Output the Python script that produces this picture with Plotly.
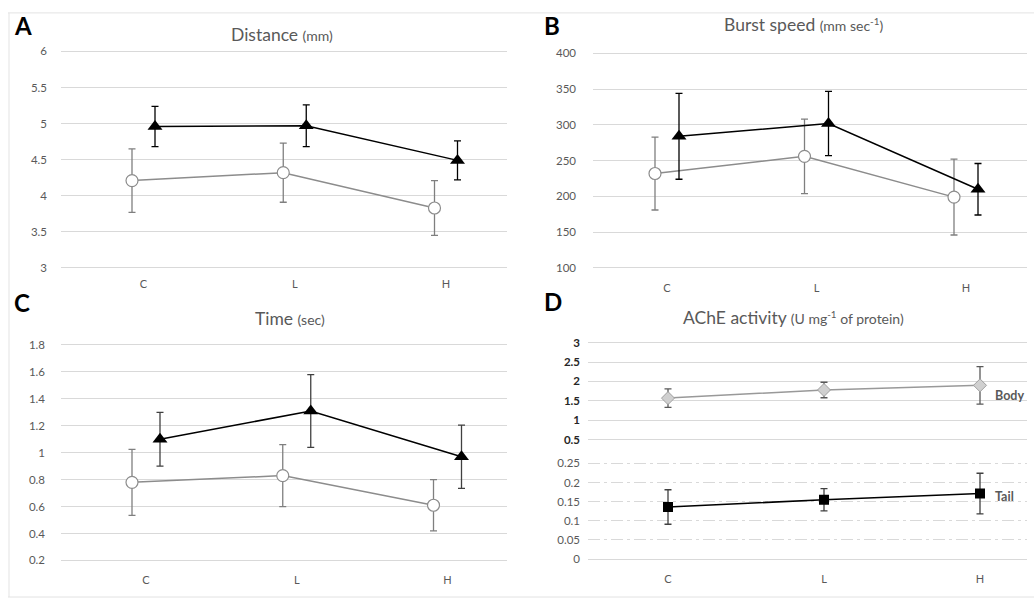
import plotly.graph_objects as go

W, H = 1034, 602

# ---------------- data ----------------
categories = ["C", "L", "H"]
cat_pos = [0, 1, 2]

# Panel A: Distance (mm)
dist_tri = [4.96, 4.97, 4.49]
dist_tri_err = [0.28, 0.29, 0.27]
dist_circ = [4.21, 4.32, 3.83]
dist_circ_err = [0.44, 0.41, 0.38]

# Panel B: Burst speed (mm sec-1)
speed_tri = [284, 302, 210]
speed_tri_err = [60, 45, 36]
speed_circ = [232, 256, 199]
speed_circ_err = [51, 52, 53]

# Panel C: Time (sec)
time_tri = [1.10, 1.31, 0.97]
time_tri_err = [0.20, 0.27, 0.235]
time_circ = [0.78, 0.83, 0.61]
time_circ_err = [0.245, 0.23, 0.19]

# Panel D: AChE activity (U mg-1 of protein)
body = [1.57, 1.78, 1.90]
body_err = [0.24, 0.20, 0.485]
tail = [0.136, 0.155, 0.171]
tail_err = [0.045, 0.029, 0.053]

ticks_A = [3, 3.5, 4, 4.5, 5, 5.5, 6]
ticks_B = [100, 150, 200, 250, 300, 350, 400]
ticks_C = [0.2, 0.4, 0.6, 0.8, 1.0, 1.2, 1.4, 1.6, 1.8]
ticks_D_up = [0.5, 1, 1.5, 2, 2.5, 3]
ticks_D_low = [0, 0.05, 0.1, 0.15, 0.2, 0.25]


def fmt(v):
    return "%g" % v


# ---------------- layout helpers ----------------
def geom(xpx, cpx, spacing, ypx_top, ypx_bot, vtop, vbot, pad=3):
    ppu = (ypx_bot - ypx_top) / (vtop - vbot)
    yr = [vbot - pad / ppu, vtop + pad / ppu]
    ydom = [1 - (ypx_bot + pad) / H, 1 - (ypx_top - pad) / H]
    xr = [(xpx[0] - cpx) / spacing, (xpx[1] - cpx) / spacing]
    xdom = [xpx[0] / W, xpx[1] / W]
    return xdom, xr, ydom, yr


GRID = "#d9d9d9"
TXT = "#595959"
FONT = "Lato"

fig = go.Figure()

panels = {
    "A": geom((61, 507), 143.5, 151.25, 48, 267, 6, 3),
    "B": geom((593, 1027), 667, 149.5, 50, 267, 400, 100),
    "C": geom((61, 507), 146, 150.75, 345, 563, 1.8, 0.2),
    "Dlow": geom((588, 1027), 668, 156, 464.7, 561.7, 0.25, 0),
    "Dup": geom((588, 1027), 668, 156, 342.7, 440.7, 3, 0.5),
}
offsets = {"A": 11.5 / 151.25, "B": 12 / 149.5, "C": 14 / 150.75}


def add_pair(tri, tri_err, circ, circ_err, xa, ya, off, tri_err_col="black"):
    fig.add_trace(go.Scatter(
        x=[p - off for p in cat_pos], y=circ, xaxis=xa, yaxis=ya,
        mode="lines+markers",
        line=dict(color="#8c8c8c", width=1.5),
        marker=dict(symbol="circle", size=12, color="white",
                    line=dict(color="#8c8c8c", width=1.2)),
        error_y=dict(type="data", array=circ_err, visible=True,
                     color="#7f7f7f", thickness=1.3, width=3.5),
        showlegend=False, hoverinfo="skip"))
    fig.add_trace(go.Scatter(
        x=[p + off for p in cat_pos], y=tri, xaxis=xa, yaxis=ya,
        mode="lines+markers",
        line=dict(color="black", width=1.5),
        marker=dict(symbol="triangle-up", size=13, color="black"),
        error_y=dict(type="data", array=tri_err, visible=True,
                     color=tri_err_col, thickness=1.3, width=3.5),
        showlegend=False, hoverinfo="skip"))


add_pair(dist_tri, dist_tri_err, dist_circ, dist_circ_err, "x", "y", offsets["A"])
add_pair(speed_tri, speed_tri_err, speed_circ, speed_circ_err, "x2", "y2", offsets["B"])
add_pair(time_tri, time_tri_err, time_circ, time_circ_err, "x3", "y3", offsets["C"], "#404040")

# Panel D
fig.add_trace(go.Scatter(
    x=cat_pos, y=tail, xaxis="x4", yaxis="y4", mode="lines+markers",
    line=dict(color="black", width=1.5),
    marker=dict(symbol="square", size=10, color="black"),
    error_y=dict(type="data", array=tail_err, visible=True,
                 color="#404040", thickness=1.3, width=3.5),
    showlegend=False, hoverinfo="skip"))
fig.add_trace(go.Scatter(
    x=cat_pos, y=body, xaxis="x4", yaxis="y5", mode="lines+markers",
    line=dict(color="#999999", width=1.5),
    marker=dict(symbol="diamond", size=10, color="#d0d0d0",
                line=dict(color="#a0a0a0", width=1)),
    error_y=dict(type="data", array=body_err, visible=True,
                 color="#595959", thickness=1.3, width=3.5),
    showlegend=False, hoverinfo="skip"))


def xaxis_cfg(key, anchor, standoff):
    xdom, xr, _, _ = panels[key]
    return dict(domain=xdom, range=xr, anchor=anchor, showgrid=False,
                zeroline=False, showline=False, tickmode="array",
                tickvals=cat_pos, ticktext=categories,
                tickfont=dict(family=FONT, size=11, color=TXT),
                ticks="", ticklabelstandoff=standoff, fixedrange=True)


def yaxis_cfg(key, anchor, tickvals, standoff, bold=False, dash="solid", zeroline=False):
    _, _, ydom, yr = panels[key]
    text = [("<b>%s</b>" % fmt(v)) if bold else fmt(v) for v in tickvals]
    return dict(domain=ydom, range=yr, anchor=anchor, showgrid=True,
                gridcolor=GRID, gridwidth=1, griddash=dash,
                zeroline=zeroline, zerolinecolor=GRID, zerolinewidth=1,
                showline=False, tickmode="array", tickvals=tickvals,
                ticktext=text, ticks="",
                tickfont=dict(family=FONT, size=11.5,
                              color="#262626" if bold else TXT),
                ticklabelstandoff=standoff, fixedrange=True)


fig.update_layout(
    width=W, height=H, margin=dict(l=0, r=0, t=0, b=0),
    paper_bgcolor="white", plot_bgcolor="white",
    xaxis=xaxis_cfg("A", "y", 5),
    yaxis=yaxis_cfg("A", "x", ticks_A, 13),
    xaxis2=xaxis_cfg("B", "y2", 9),
    yaxis2=yaxis_cfg("B", "x2", ticks_B, 16),
    xaxis3=xaxis_cfg("C", "y3", 9),
    yaxis3=yaxis_cfg("C", "x3", ticks_C, 15),
    xaxis4=xaxis_cfg("Dlow", "y4", 9),
    yaxis4=yaxis_cfg("Dlow", "x4", ticks_D_low, 7, dash="12px,4px,3px,4px", zeroline=True),
    yaxis5=yaxis_cfg("Dup", "x4", ticks_D_up, 7, bold=True),
)


def ann(text, xpx, ypx, size, color=TXT, xanchor="center", family=FONT):
    fig.add_annotation(text=text, x=xpx / W, y=1 - ypx / H, xref="paper", yref="paper",
                       showarrow=False, xanchor=xanchor, yanchor="middle",
                       font=dict(family=family, size=size, color=color))


small = "<span style='font-size:14px'>%s</span>"
ann("Distance " + small % "(mm)", 282, 31, 17.5)
ann("Burst speed " + small % "(mm sec<sup>-1</sup>)", 803, 21, 17.5)
ann("Time " + small % "(sec)", 290, 318, 17.5)
ann("AChE activity " + small % "(U mg<sup>-1</sup> of protein)", 793, 317, 17.5)

for letter, xp, yp in [("A", 23, 22), ("B", 552, 22), ("C", 22, 302), ("D", 553, 301)]:
    ann("<b>%s</b>" % letter, xp, yp, 24, color="black")

ann("<b>Body</b>", 993, 396, 12.5, xanchor="left")
ann("<b>Tail</b>", 993, 498, 12.5, xanchor="left")

# faint chart-area frame
frame = "#e3e3e3"
for x0, y0, x1, y1 in [(8, 9, W, 9), (9, 9, 9, 600), (8, 600, W, 600)]:
    fig.add_shape(type="line", xref="paper", yref="paper",
                  x0=x0 / W, y0=1 - y0 / H, x1=x1 / W, y1=1 - y1 / H,
                  line=dict(color=frame, width=1))

fig.write_html(
    "out.html",
    config={"displayModeBar": False},
    post_script="document.body.style.margin='0';document.body.style.overflow='hidden';"
                "document.documentElement.style.overflow='hidden';",
)
